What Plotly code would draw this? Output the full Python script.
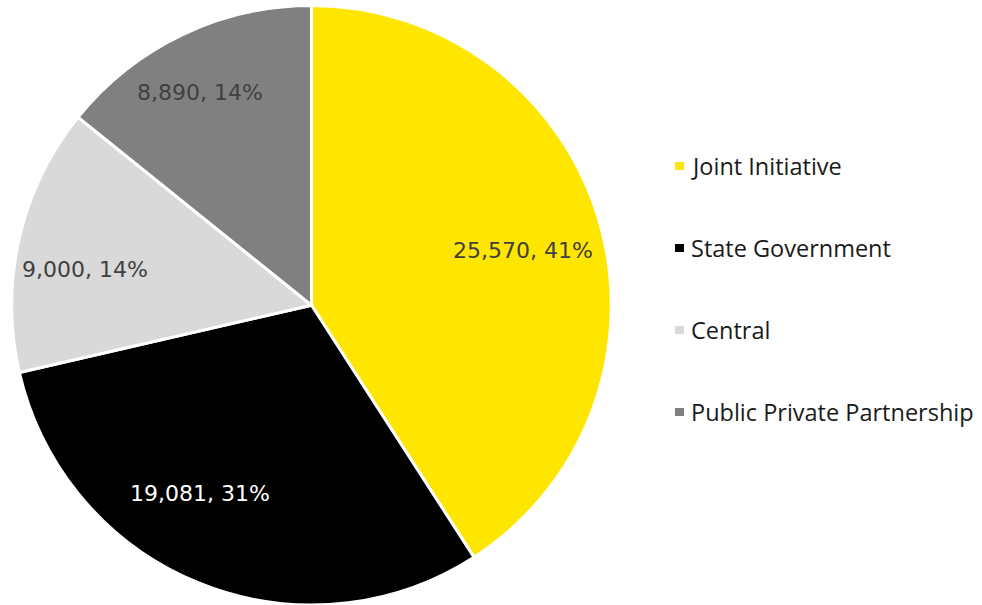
import math
import plotly.graph_objects as go

# Road project funding by mode
labels = ["Joint Initiative", "State Government", "Central", "Public Private Partnership"]
values = [25570, 19081, 9000, 8890]
percents = [41, 31, 14, 14]
colors = ["#FFE600", "#000000", "#D9D9D9", "#808080"]
text_colors = ["#404040", "#FFFFFF", "#404040", "#404040"]

# label placement: radial fraction and small angular nudge (degrees) per slice
label_r = [0.73, 0.73, 0.765, 0.80]
label_nudge = [2.0, 8.5, -4.0, -2.0]

W, H = 982, 605
dom_x = [11 / W, 612 / W]
dom_y = [0, 0.991]

fig = go.Figure(
    go.Pie(
        labels=labels,
        values=values,
        textinfo="none",
        marker=dict(colors=colors, line=dict(color="#FFFFFF", width=3)),
        sort=False,
        direction="clockwise",
        rotation=0,
        showlegend=False,
        domain=dict(x=dom_x, y=dom_y),
        hoverinfo="label+value+percent",
    )
)

# Slice labels placed along each slice's mid-angle
cx = (dom_x[0] + dom_x[1]) / 2 * W
cy = (1 - (dom_y[0] + dom_y[1]) / 2) * H
radius = min((dom_x[1] - dom_x[0]) * W, (dom_y[1] - dom_y[0]) * H) / 2
total = sum(values)
cum = 0
for v, p, tc, rf, nd in zip(values, percents, text_colors, label_r, label_nudge):
    mid = (cum + v / 2) / total * 360 + nd
    cum += v
    a = math.radians(mid)
    px = cx + rf * radius * math.sin(a)
    py = cy - rf * radius * math.cos(a)
    fig.add_annotation(
        x=px / W, y=1 - py / H, xref="paper", yref="paper",
        text=f"{v:,}, {p}%", showarrow=False,
        xanchor="center", yanchor="middle",
        font=dict(family="DejaVu Sans", size=22, color=tc),
    )

# Custom legend: small square swatches with labels
legend_y = [166, 248, 330, 412]
for name, col, yp in zip(labels, colors, legend_y):
    fig.add_shape(
        type="rect", xref="paper", yref="paper",
        x0=675 / W, x1=684 / W, y0=1 - (yp + 4) / H, y1=1 - (yp - 4) / H,
        fillcolor=col, line=dict(width=0),
    )
    fig.add_annotation(
        x=689 / W, y=1 - yp / H, xref="paper", yref="paper",
        text=name, showarrow=False, xanchor="left", yanchor="middle",
        font=dict(family="Open Sans", size=23.5, color="#1A1A1A"),
    )

fig.update_layout(
    width=W, height=H,
    margin=dict(l=0, r=0, t=0, b=0),
    paper_bgcolor="#FFFFFF",
    plot_bgcolor="#FFFFFF",
)

fig.write_html("out.html")
